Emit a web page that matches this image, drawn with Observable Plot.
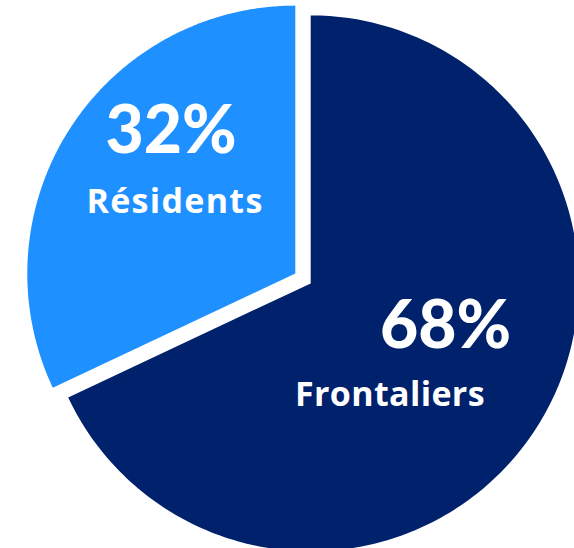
<!DOCTYPE html>
<html>
<head>
<meta charset="utf-8">
<script src="https://cdn.jsdelivr.net/npm/d3@7"></script>
<script src="https://cdn.jsdelivr.net/npm/@observablehq/plot@0.6"></script>
<style>
  html, body { margin: 0; padding: 0; background: #fff; }
  #chart { width: 574px; height: 548px; overflow: hidden; }
</style>
</head>
<body>
<div id="chart"></div>
<script>
const categories = ["Frontaliers", "Résidents"];
const values = [68, 32];
const pctLabels = ["68%", "32%"];
const colors = ["#00216B", "#1E90FF"];

const W = 574, H = 548;
const R = 268;            // pixel radius
const CX = 302.5, CY = 278; // pixel centre of the pie
const explode = 0.034;    // slice offset (radius units)
const labelR = 0.6;       // label radius (radius units)

const pie = d3.pie().sort(null).value((d, i) => values[i])(categories);

const polyPts = [];
const labelPts = [];
pie.forEach((s, i) => {
  const mid = (s.startAngle + s.endAngle) / 2;
  const ox = explode * Math.sin(mid), oy = explode * Math.cos(mid);
  polyPts.push({name: categories[i], x: ox, y: oy});
  const n = 240;
  for (let k = 0; k <= n; k++) {
    const a = s.startAngle + (s.endAngle - s.startAngle) * k / n;
    polyPts.push({name: categories[i], x: ox + Math.sin(a), y: oy + Math.cos(a)});
  }
  labelPts.push({name: categories[i], pct: pctLabels[i],
    x: ox + labelR * Math.sin(mid), y: oy + labelR * Math.cos(mid)});
});

const font = "Lato, 'Noto Sans', sans-serif";
const nameFont = "'Open Sans', 'Noto Sans', sans-serif";
const pick = name => labelPts.filter(d => d.name === name);

const chart = Plot.plot({
  width: W, height: H, margin: 0,
  x: {domain: [-CX / R, (W - CX) / R], axis: null},
  y: {domain: [-(H - CY) / R, CY / R], axis: null},
  color: {domain: categories, range: colors},
  marks: [
    Plot.line(polyPts, {x: "x", y: "y", z: "name", fill: "name", stroke: "none"}),
    Plot.text(pick("Résidents"), {x: "x", y: "y", text: "pct", fill: "white", fontSize: 66, fontWeight: 900, fontFamily: font, dx: 11.5, dy: -56}),
    Plot.text(pick("Résidents"), {x: "x", y: "y", text: "name", fill: "white", fontSize: 34, fontWeight: 700, fontFamily: nameFont, dx: 15.5, dy: 15}),
    Plot.text(pick("Frontaliers"), {x: "x", y: "y", text: "pct", fill: "white", fontSize: 66, fontWeight: 900, fontFamily: font, dx: -1, dy: -43}),
    Plot.text(pick("Frontaliers"), {x: "x", y: "y", text: "name", fill: "white", fontSize: 34, fontWeight: 700, fontFamily: nameFont, dx: -56.5, dy: 26})
  ]
});
const spacing = {"Résidents": "1.3px", "Frontaliers": "0.35px"};
d3.select(chart).selectAll("text").filter(function() {
  return categories.includes(this.textContent);
}).style("letter-spacing", function() { return spacing[this.textContent]; });
document.getElementById("chart").appendChild(chart);
</script>
</body>
</html>
